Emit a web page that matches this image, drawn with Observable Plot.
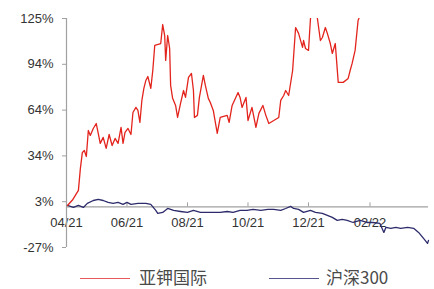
<!DOCTYPE html>
<html><head><meta charset="utf-8">
<script src="https://cdn.jsdelivr.net/npm/d3@7"></script>
<script src="https://cdn.jsdelivr.net/npm/@observablehq/plot@0.6"></script>
<style>
body{margin:0;background:#fff;font-family:"Liberation Sans",Arial,sans-serif;}
#wrap{position:relative;width:434px;height:289px;}
#legend{position:absolute;left:0;top:262px;width:434px;height:27px;font-family:"Noto Sans CJK SC",sans-serif;font-size:17px;color:#4a4a4a;}
.sw{position:absolute;top:16px;height:0;width:50px;border-top:1.5px solid;}
.lb{position:absolute;top:4px;line-height:22px;}
</style></head>
<body><div id="wrap"><div id="chart"></div><div id="legend"></div></div>
<script>
const seriesNames = ["亚钾国际", "沪深300"];
const redDates = ["2021-04-02","2021-04-07","2021-04-13","2021-04-15","2021-04-17","2021-04-19","2021-04-21","2021-04-23","2021-04-25","2021-04-28","2021-05-01","2021-05-03","2021-05-05","2021-05-08","2021-05-11","2021-05-14","2021-05-17","2021-05-20","2021-05-23","2021-05-26","2021-05-28","2021-05-30","2021-06-02","2021-06-05","2021-06-07","2021-06-10","2021-06-12","2021-06-14","2021-06-16","2021-06-18","2021-06-20","2021-06-22","2021-06-25","2021-06-27","2021-06-29","2021-07-05","2021-07-07","2021-07-09","2021-07-10","2021-07-12","2021-07-14","2021-07-15","2021-07-17","2021-07-20","2021-07-22","2021-07-25","2021-07-28","2021-07-30","2021-08-02","2021-08-05","2021-08-07","2021-08-08","2021-08-11","2021-08-13","2021-08-17","2021-08-19","2021-08-22","2021-08-24","2021-08-27","2021-08-31","2021-09-03","2021-09-10","2021-09-12","2021-09-15","2021-09-21","2021-09-23","2021-09-25","2021-09-29","2021-10-01","2021-10-05","2021-10-09","2021-10-12","2021-10-16","2021-10-19","2021-10-22","2021-10-27","2021-11-01","2021-11-03","2021-11-06","2021-11-08","2021-11-11","2021-11-15","2021-11-18","2021-11-21","2021-11-25","2021-11-26","2021-11-28","2021-12-01","2021-12-03","2021-12-06","2021-12-10","2021-12-13","2021-12-15","2021-12-18","2021-12-20","2021-12-23","2021-12-25","2021-12-28","2021-12-31","2022-01-05","2022-01-10","2022-01-12","2022-01-14","2022-01-17","2022-01-20","2022-01-22"];
const redValues = [0.9,4.5,10.9,25.5,36.1,37.4,33.4,50.7,47.4,52.0,55.3,48.7,42.1,46.1,38.8,48.0,40.7,45.4,42.1,52.7,42.1,49.4,52.0,48.0,62.6,66.0,64.0,56.0,70.6,78.6,83.9,86.5,78.6,90.5,107.2,108.4,121.0,113.7,97.2,113.7,105.1,80.6,72.0,67.3,59.3,68.6,77.2,72.6,85.9,88.5,77.2,59.3,60.7,72.6,87.2,80.6,72.0,69.3,64.0,48.7,59.3,60.7,56.0,67.3,75.9,72.6,66.0,72.6,57.3,66.0,52.7,62.0,67.3,60.7,55.3,57.3,59.3,70.6,73.9,77.2,73.9,90.5,119.0,115.1,105.8,110.4,105.1,103.8,125.0,133.0,125.0,110.4,112.4,119.0,115.1,108.4,101.8,108.4,82.6,82.6,85.2,90.5,95.2,103.8,123.7,127.0];
const blueDates = ["2021-04-02","2021-04-08","2021-04-13","2021-04-18","2021-04-22","2021-04-28","2021-05-03","2021-05-08","2021-05-13","2021-05-18","2021-05-23","2021-05-28","2021-06-01","2021-06-05","2021-06-12","2021-06-20","2021-06-25","2021-06-30","2021-07-02","2021-07-07","2021-07-12","2021-07-18","2021-07-25","2021-08-01","2021-08-07","2021-08-14","2021-08-21","2021-08-27","2021-09-03","2021-09-10","2021-09-16","2021-09-23","2021-09-30","2021-10-06","2021-10-14","2021-10-21","2021-10-27","2021-11-03","2021-11-08","2021-11-13","2021-11-16","2021-11-21","2021-11-26","2021-12-03","2021-12-08","2021-12-15","2021-12-20","2021-12-25","2021-12-30","2022-01-04","2022-01-09","2022-01-15","2022-01-22","2022-01-29","2022-02-04","2022-02-11","2022-02-15","2022-02-17","2022-02-22","2022-02-27","2022-03-04","2022-03-11","2022-03-17","2022-03-22","2022-03-27","2022-03-31","2022-04-01"];
const blueValues = [0.9,-0.4,0.9,-0.4,2.3,4.2,4.9,4.2,2.9,2.3,2.9,1.6,2.9,1.6,2.3,2.3,1.6,-2.4,-4.4,-3.7,-1.1,-2.4,-3.1,-3.7,-2.4,-3.7,-3.7,-3.7,-3.7,-3.1,-3.7,-2.4,-2.4,-1.7,-2.4,-1.7,-1.7,-2.4,-1.1,0.3,-1.1,-1.7,-3.7,-2.4,-3.7,-4.4,-5.7,-7.0,-9.0,-8.4,-9.0,-10.4,-9.0,-10.4,-10.4,-11.0,-17.0,-13.7,-14.3,-13.7,-14.3,-13.7,-14.3,-17.0,-21.0,-24.3,-22.3];
const xTickDates = ["2021-04-01","2021-06-01","2021-08-01","2021-10-01","2021-12-01","2022-02-01"];
const xTickLabels = ["04/21","06/21","08/21","10/21","12/21","02/22"];
const yTickLabels = ["-27%","3%","34%","64%","94%","125%"];
const yMin = -27, yMax = 125;
const xStart = "2021-04-01", xEnd = "2022-04-01";

const colors = ["#e3241d", "#2c2b6b"];
const parse = d3.utcParse("%Y-%m-%d");
const red = redDates.map((d, i) => ({date: parse(d), v: redValues[i]}));
const blue = blueDates.map((d, i) => ({date: parse(d), v: blueValues[i]}));
const xt = xTickDates.map((d, i) => ({date: parse(d), label: xTickLabels[i]}));
const yTicks = yTickLabels.map((_, i) => yMin + i * (yMax - yMin) / (yTickLabels.length - 1));
const axisGray = "#a0a0a0";

const chart = Plot.plot({
  width: 434, height: 262,
  marginLeft: 66, marginRight: 6, marginTop: 18, marginBottom: 15,
  style: {fontFamily: "'Liberation Sans', Arial, sans-serif", fontSize: "13px", color: "#333", background: "#fff"},
  x: {type: "utc", domain: [parse(xStart), parse(xEnd)], axis: null},
  y: {domain: [yMin, yMax], axis: null},
  marks: [
    Plot.ruleY([0], {stroke: axisGray, strokeWidth: 1.2}),
    Plot.ruleX(xt, {x: "date", y1: 0, y2: 2.6, stroke: axisGray}),
    Plot.text(xt, {x: "date", y: 0, dy: 16, text: "label", fill: "#333", fontSize: 13}),
    Plot.ruleX([parse(xStart)], {stroke: axisGray, strokeWidth: 1.2}),
    Plot.axisY(yTicks, {tickSize: 4, tickPadding: 9, stroke: axisGray, tickFormat: d => yTickLabels[yTicks.indexOf(d)], fill: "#333", fontSize: 13, label: null}),
    Plot.line(blue, {x: "date", y: "v", stroke: colors[1], strokeWidth: 1.3}),
    Plot.line(red, {x: "date", y: "v", stroke: colors[0], strokeWidth: 1.3, clip: true})
  ]
});
document.getElementById("chart").appendChild(chart);

const legend = document.getElementById("legend");
const legendPos = [{line: 80, text: 139}, {line: 269, text: 326}];
seriesNames.forEach((name, i) => {
  const sw = document.createElement("div");
  sw.className = "sw"; sw.style.left = legendPos[i].line + "px"; sw.style.borderTopColor = i === 0 ? "#e65a5a" : "#55558f";
  const lb = document.createElement("div");
  lb.className = "lb"; lb.style.left = legendPos[i].text + "px"; lb.textContent = name;
  legend.appendChild(sw); legend.appendChild(lb);
});
</script></body></html>
